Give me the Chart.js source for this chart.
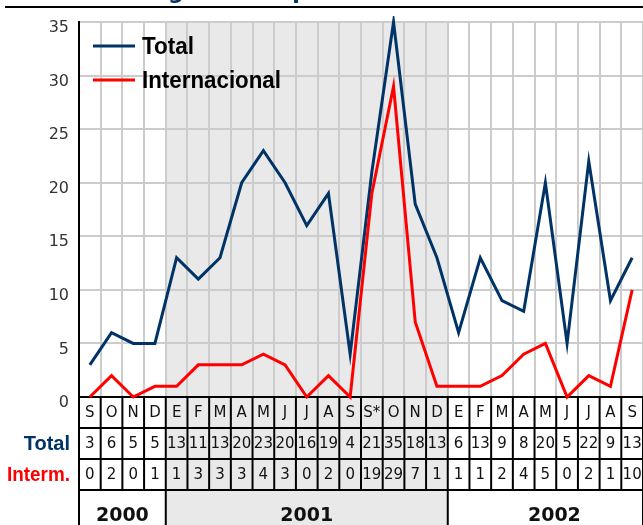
<!DOCTYPE html>
<html><head><meta charset="utf-8">
<script src="https://cdn.jsdelivr.net/npm/chart.js@4"></script>
<style>html,body{margin:0;padding:0;background:#fff;overflow:hidden}</style>
</head><body>
<canvas id="c" width="643" height="525" style="display:block;width:643px;height:525px"></canvas>
<script>
const months = ['S','O','N','D','E','F','M','A','M','J','J','A','S','S*','O','N','D','E','F','M','A','M','J','J','A','S'];
const totalValues = [3,6,5,5,13,11,13,20,23,20,16,19,4,21,35,18,13,6,13,9,8,20,5,22,9,13];
const internValues = [0,2,0,1,1,3,3,3,4,3,0,2,0,19,29,7,1,1,1,2,4,5,0,2,1,10];
const yearLabels = ['2000','2001','2002'];
const yearSpans = [4,13,9];
const seriesNames = ['Total','Internacional'];
const rowLabels = ['Total','Interm.'];
const titleText = 'Atentados registrados por mes';

const NAVY = '#003366', RED = '#ff0000';

function colW(x){ return x.getPixelForValue(1) - x.getPixelForValue(0); }

const tablePlugin = {
  id: 'tablePlugin',
  beforeDraw(chart){
    const {ctx, chartArea:a, scales:{x}} = chart;
    const w = colW(x);
    ctx.save();
    ctx.fillStyle = '#fff';
    ctx.fillRect(0,0,chart.width,chart.height);
    const x1 = x.getPixelForValue(yearSpans[0]) - w/2;
    const x2 = x.getPixelForValue(yearSpans[0]+yearSpans[1]-1) + w/2;
    ctx.fillStyle = '#e9e9e9';
    ctx.fillRect(x1, a.top, x2-x1, chart.height - a.top);
    ctx.restore();
  },
  beforeDatasetsDraw(chart){
    const {ctx, chartArea:a, scales:{x}} = chart;
    const w = colW(x);
    const rowH = 31;
    const top = a.bottom;
    const left = x.getPixelForValue(0) - w/2;
    const right = chart.width;
    ctx.save();
    ctx.strokeStyle = '#000';
    ctx.lineWidth = 2;
    ctx.beginPath();
    for (let r=0; r<4; r++){
      const y = top + r*rowH;
      ctx.moveTo(left, y); ctx.lineTo(right, y);
    }
    for (let i=0; i<=months.length; i++){
      const xx = x.getPixelForValue(0) - w/2 + i*w;
      ctx.moveTo(xx, top); ctx.lineTo(xx, top + 3*rowH);
    }
    let idx = 0;
    const bounds = [0];
    yearSpans.forEach(s => { idx += s; bounds.push(idx); });
    bounds.forEach(b => {
      const xx = x.getPixelForValue(0) - w/2 + b*w;
      ctx.moveTo(xx, top + 3*rowH); ctx.lineTo(xx, chart.height);
    });
    ctx.stroke();
    ctx.restore();
  },
  afterDraw(chart){
    const {ctx, chartArea:a, scales:{x}} = chart;
    const w = colW(x);
    const rowH = 31;
    const top = a.bottom;
    ctx.save();
    ctx.textAlign = 'center';
    ctx.textBaseline = 'middle';
    ctx.fillStyle = '#111';
    ctx.font = '15px "DejaVu Sans"';
    months.forEach((m,i) => ctx.fillText(m, x.getPixelForValue(i), top + rowH*0.5 + 1, w - 3));
    ctx.font = '15px "DejaVu Sans"';
    totalValues.forEach((v,i) => ctx.fillText(String(v), x.getPixelForValue(i), top + rowH*1.5 + 1, w - 2));
    internValues.forEach((v,i) => ctx.fillText(String(v), x.getPixelForValue(i), top + rowH*2.5 + 1, w - 2));
    // years
    ctx.font = 'bold 19px "DejaVu Sans"';
    let start = 0;
    const left0 = x.getPixelForValue(0) - w/2;
    yearLabels.forEach((yl, k) => {
      const x1 = left0 + start*w;
      let x2 = left0 + (start + yearSpans[k])*w;
      if (k === yearLabels.length-1) x2 += 18;
      ctx.fillText(yl, (x1+x2)/2, 516);
      start += yearSpans[k];
    });
    // row labels
    ctx.textAlign = 'right';
    ctx.font = 'bold 20px "Liberation Sans"';
    ctx.fillStyle = NAVY;
    ctx.fillText(rowLabels[0], 70, top + rowH*1.5 + 1, 47);
    ctx.fillStyle = RED;
    ctx.fillText(rowLabels[1], 70, top + rowH*2.5 + 1, 63);
    // legend
    ctx.lineWidth = 3;
    const legY = [46, 80];
    const legCol = [NAVY, RED];
    const legW = [52, 139];
    seriesNames.forEach((n,k) => {
      ctx.strokeStyle = legCol[k];
      ctx.beginPath(); ctx.moveTo(93, legY[k]); ctx.lineTo(135, legY[k]); ctx.stroke();
      ctx.fillStyle = '#000';
      ctx.textAlign = 'left';
      ctx.font = 'bold 24px "Liberation Sans"';
      ctx.fillText(n, 142, legY[k] + 1, legW[k]);
    });
    // title (cut off at top)
    ctx.font = 'bold 22px "DejaVu Sans"';
    ctx.fillStyle = NAVY;
    ctx.textAlign = 'left';
    ctx.textBaseline = 'alphabetic';
    const pre = titleText.slice(0, titleText.indexOf('g'));
    const tx = 168 - ctx.measureText(pre).width;
    ctx.fillText(titleText, tx, -1);
    ctx.strokeStyle = '#000';
    ctx.lineWidth = 2;
    ctx.beginPath(); ctx.moveTo(5, 7); ctx.lineTo(643, 7); ctx.stroke();
    ctx.restore();
  }
};

new Chart(document.getElementById('c'), {
  type: 'line',
  data: {
    labels: months,
    datasets: [
      { label: seriesNames[1], data: internValues, borderColor: RED, backgroundColor: RED, borderWidth: 3, pointRadius: 0, tension: 0, order: 0, clip: 6 },
      { label: seriesNames[0], data: totalValues, borderColor: NAVY, backgroundColor: NAVY, borderWidth: 3, pointRadius: 0, tension: 0, order: 1, clip: 6 }
    ]
  },
  options: {
    responsive: false,
    animation: false,
    devicePixelRatio: 1,
    layout: { padding: { top: 22, bottom: 128, left: 0, right: 0 } },
    plugins: { legend: { display: false }, tooltip: { enabled: false }, title: { display: false } },
    scales: {
      x: {
        type: 'category',
        offset: true,
        grid: { offset: true, color: '#cccccc', lineWidth: 2, drawTicks: false },
        border: { display: false },
        ticks: { display: false }
      },
      y: {
        min: 0, max: 35,
        ticks: { stepSize: 5, color: '#333', font: { family: 'DejaVu Sans', size: 16 }, padding: 10, labelOffset: 6 },
        grid: { color: '#cccccc', lineWidth: 2, drawTicks: false },
        border: { color: '#000', width: 2 },
        afterFit(s){ s.width = 79; }
      }
    }
  },
  plugins: [tablePlugin]
});
</script>
</body></html>
